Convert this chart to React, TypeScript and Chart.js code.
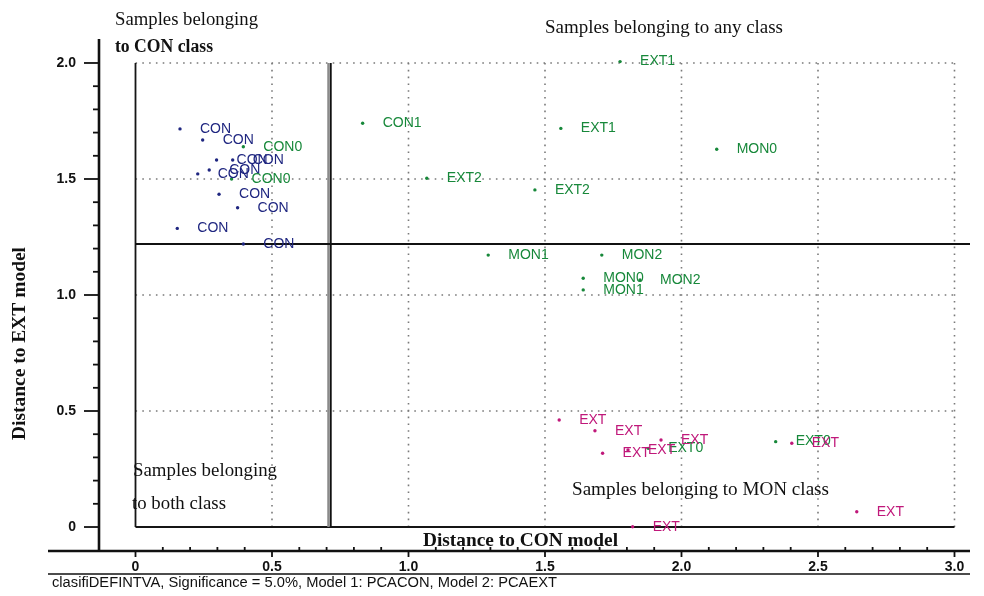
import React, { useEffect, useRef } from 'react';
import { Chart, registerables } from 'chart.js';

Chart.register(...registerables);

// ---- scale ranges & ticks ----
const X_MIN = -0.1337;
const X_MAX = 3.0568;
const Y_MIN = -0.1034;
const Y_MAX = 2.1034;
const xTickValues = [0, 0.5, 1.0, 1.5, 2.0, 2.5, 3.0];
const yTickValues = [0, 0.5, 1.0, 1.5, 2.0];

// critical distances (class limits)
const conLimit = 0.7125;
const extLimit = 1.2198;

// ---- samples: CON class (navy) ----
const conX = [0.163, 0.246, 0.297, 0.356, 0.228, 0.27, 0.306, 0.374, 0.153, 0.395];
const conY = [1.716, 1.668, 1.582, 1.582, 1.522, 1.539, 1.434, 1.376, 1.287, 1.22];
const conLabels = ['CON', 'CON', 'CON', 'CON', 'CON', 'CON', 'CON', 'CON', 'CON', 'CON'];

// ---- samples (green) ----
const grnX = [0.395, 0.352, 0.832, 1.775, 1.067, 1.558, 1.463, 2.129, 1.292, 1.708, 1.64, 1.64, 1.848, 1.878, 2.345];
const grnY = [1.639, 1.5, 1.74, 2.006, 1.503, 1.718, 1.453, 1.628, 1.172, 1.172, 1.072, 1.022, 1.065, 0.339, 0.368];
const grnLabels = ['CON0', 'CON0', 'CON1', 'EXT1', 'EXT2', 'EXT1', 'EXT2', 'MON0', 'MON1', 'MON2', 'MON0', 'MON1', 'MON2', 'EXT0', 'EXT0'];

// ---- samples: EXT class (magenta) ----
const extX = [1.552, 1.683, 1.711, 1.804, 1.925, 2.404, 2.642, 1.821];
const extY = [0.461, 0.415, 0.318, 0.332, 0.375, 0.361, 0.066, 0.001];
const extLabels = ['EXT', 'EXT', 'EXT', 'EXT', 'EXT', 'EXT', 'EXT', 'EXT'];

const NAVY = '#1f2680';
const GREEN = '#17883a';
const MAGENTA = '#c0187a';

const SANS = '"Liberation Sans", Arial, sans-serif';
const SERIF = '"Liberation Serif", "Times New Roman", serif';

const toPts = (xs: number[], ys: number[]) => xs.map((v, i) => ({ x: v, y: ys[i] }));

function fitText(ctx: CanvasRenderingContext2D, text: string, x: number, yMid: number, font: string, width: number, color = '#111') {
  ctx.save();
  ctx.font = font;
  ctx.fillStyle = color;
  ctx.textBaseline = 'middle';
  ctx.textAlign = 'left';
  const w = ctx.measureText(text).width;
  ctx.translate(x, yMid);
  ctx.scale(width / w, 1);
  ctx.fillText(text, 0, 0);
  ctx.restore();
}

function seg(ctx: CanvasRenderingContext2D, x1: number, y1: number, x2: number, y2: number) {
  ctx.beginPath();
  ctx.moveTo(x1, y1);
  ctx.lineTo(x2, y2);
  ctx.stroke();
}

const decorPlugin = {
  id: 'decor',
  beforeDatasetsDraw(chart: any) {
    const { ctx, chartArea } = chart;
    const xs = chart.scales.x;
    const ys = chart.scales.y;
    const px = (v: number) => xs.getPixelForValue(v);
    const py = (v: number) => ys.getPixelForValue(v);
    const xLast = xTickValues[xTickValues.length - 1];
    const yLast = yTickValues[yTickValues.length - 1];
    ctx.save();
    // dotted grid
    ctx.strokeStyle = '#7a7a7a';
    ctx.lineWidth = 1.6;
    ctx.setLineDash([1.6, 5.2]);
    xTickValues.forEach((v) => { if (v > 0) seg(ctx, px(v), py(0), px(v), py(yLast)); });
    yTickValues.forEach((v) => { if (v > 0) seg(ctx, px(0), py(v), px(xLast), py(v)); });
    ctx.setLineDash([]);
    // inner frame
    ctx.strokeStyle = '#151515';
    ctx.lineWidth = 1.8;
    seg(ctx, px(0), py(yLast), px(0), py(0));
    seg(ctx, px(0), py(0), px(xLast), py(0));
    // class limits
    ctx.strokeStyle = '#8a8a8a';
    ctx.lineWidth = 2.5;
    seg(ctx, px(conLimit) - 1.5, py(yLast), px(conLimit) - 1.5, py(0));
    ctx.strokeStyle = '#111';
    ctx.lineWidth = 1.8;
    seg(ctx, px(conLimit) + 0.8, py(yLast), px(conLimit) + 0.8, py(0));
    ctx.lineWidth = 2.2;
    seg(ctx, px(0), py(extLimit), chartArea.right, py(extLimit));
    ctx.restore();
  },
  afterDatasetsDraw(chart: any) {
    const { ctx } = chart;
    ctx.save();
    ctx.font = '14px ' + SANS;
    ctx.textBaseline = 'middle';
    ctx.textAlign = 'left';
    chart.data.datasets.forEach((ds: any, i: number) => {
      const meta = chart.getDatasetMeta(i);
      ctx.fillStyle = ds.borderColor;
      meta.data.forEach((el: any, j: number) => {
        ctx.fillText(ds.pointLabels[j], el.x + 20, el.y);
      });
    });
    ctx.restore();
  },
  afterDraw(chart: any) {
    const { ctx, chartArea } = chart;
    const xs = chart.scales.x;
    const ys = chart.scales.y;
    const L = chartArea.left;
    const B = chartArea.bottom;
    ctx.save();
    ctx.strokeStyle = '#111';
    // axes
    ctx.lineWidth = 2.6;
    seg(ctx, L, chartArea.top, L, B);
    seg(ctx, 48, B, chartArea.right, B);
    // y ticks (major 0.5, minor 0.1)
    ctx.lineWidth = 1.8;
    for (let i = 0; i <= 20; i++) {
      const yy = ys.getPixelForValue(i / 10);
      if (i % 5 === 0) seg(ctx, L - 15, yy, L, yy);
      else seg(ctx, L - 6, yy, L, yy);
    }
    for (let i = 0; i <= 30; i++) {
      const xx = xs.getPixelForValue(i / 10);
      if (i % 5 === 0) seg(ctx, xx, B, xx, B + 6);
      else seg(ctx, xx, B - 4, xx, B);
    }
    // footer line
    ctx.lineWidth = 1.6;
    seg(ctx, 48, 574, chartArea.right, 574);
    ctx.restore();

    // footer
    fitText(ctx, 'clasifiDEFINTVA, Significance = 5.0%, Model 1: PCACON, Model 2: PCAEXT', 52, 583, '14px ' + SANS, 505);
    // axis titles
    fitText(ctx, 'Distance to CON model', 423, 541, 'bold 19px ' + SERIF, 195);
    ctx.save();
    ctx.translate(20, 440);
    ctx.rotate(-Math.PI / 2);
    fitText(ctx, 'Distance to EXT model', 0, 0, 'bold 19px ' + SERIF, 193);
    ctx.restore();
    // region annotations
    fitText(ctx, 'Samples belonging', 115, 20, '18px ' + SERIF, 143);
    fitText(ctx, 'to CON class', 115, 47, 'bold 18px ' + SERIF, 98);
    fitText(ctx, 'Samples belonging to any class', 545, 28, '18px ' + SERIF, 238);
    fitText(ctx, 'Samples belonging', 133, 471, '18px ' + SERIF, 144);
    fitText(ctx, 'to both class', 132, 504, '18px ' + SERIF, 94);
    fitText(ctx, 'Samples belonging to MON class', 572, 490, '18px ' + SERIF, 257);
  },
};

const fmt = (v: number) => (v === 0 ? '0' : v.toFixed(1));

export default function App() {
  const ref = useRef<HTMLCanvasElement | null>(null);
  useEffect(() => {
    if (!ref.current) return;
    const mk = (label: string, xs: number[], ys: number[], labels: string[], color: string) => ({
      label,
      data: toPts(xs, ys),
      pointLabels: labels,
      backgroundColor: color,
      borderColor: color,
      borderWidth: 0,
      pointRadius: 1.7,
      pointHoverRadius: 1.7,
    });
    const chart = new Chart(ref.current, {
      type: 'scatter',
      data: {
        datasets: [
          mk('CON', conX, conY, conLabels, NAVY) as any,
          mk('samples', grnX, grnY, grnLabels, GREEN) as any,
          mk('EXT', extX, extY, extLabels, MAGENTA) as any,
        ],
      },
      options: {
        animation: false,
        responsive: false,
        events: [],
        layout: { padding: { left: 0, right: 14, top: 39, bottom: 0 } },
        plugins: { legend: { display: false }, tooltip: { enabled: false } },
        scales: {
          x: {
            type: 'linear',
            min: X_MIN,
            max: X_MAX,
            grid: { display: false, drawTicks: false },
            border: { display: false },
            afterBuildTicks: (s: any) => { s.ticks = xTickValues.map((v) => ({ value: v })); },
            afterFit: (s: any) => { s.height = 45; },
            ticks: {
              callback: (v: any) => fmt(Number(v)),
              font: { family: SANS, size: 14, weight: 'bold' },
              color: '#111',
              padding: 8,
              maxRotation: 0,
              autoSkip: false,
            },
          },
          y: {
            type: 'linear',
            min: Y_MIN,
            max: Y_MAX,
            grid: { display: false, drawTicks: false },
            border: { display: false },
            afterBuildTicks: (s: any) => { s.ticks = yTickValues.map((v) => ({ value: v })); },
            afterFit: (s: any) => { s.width = 99; },
            ticks: {
              callback: (v: any) => fmt(Number(v)),
              font: { family: SANS, size: 14, weight: 'bold' },
              color: '#111',
              padding: 23,
              autoSkip: false,
            },
          },
        },
      } as any,
      plugins: [decorPlugin],
    });
    return () => chart.destroy();
  }, []);
  return (
    <div style={{ position: 'absolute', left: 0, top: 0, width: 984, height: 596, background: '#fff' }}>
      <canvas ref={ref} width={984} height={596} style={{ display: 'block', width: 984, height: 596 }} />
    </div>
  );
}
